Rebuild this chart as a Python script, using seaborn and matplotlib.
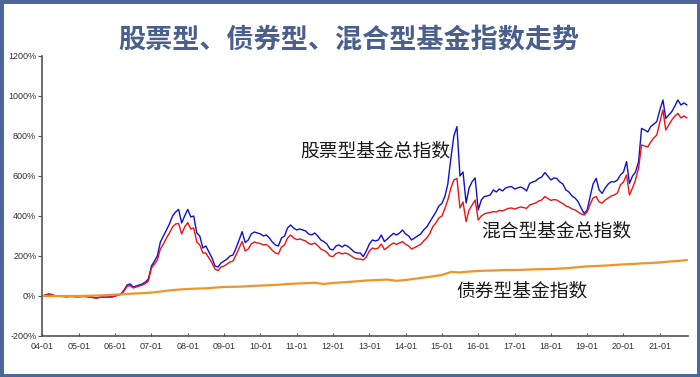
import numpy as np
import pandas as pd
import matplotlib
matplotlib.use('Agg')
import matplotlib.pyplot as plt
import matplotlib.dates as mdates
from matplotlib.patches import Rectangle
from matplotlib.ticker import FuncFormatter
import seaborn as sns

sns.set_theme(style='white')
plt.rcParams['font.family'] = ['Noto Sans CJK SC', 'DejaVu Sans']

# monthly values (%), 2004-01 .. 2021-10
stock = [
    0, 5, 10, 8, 2, 1, 0, -2, -3, -2, -2, -3,
    -3, -2, -2, -3, -5, -8, -10, -6, -5, -6, -5, -4,
    0, 5, 10, 30, 55, 60, 45, 50, 55, 60, 70, 85,
    150, 175, 200, 270, 300, 330, 360, 400, 420, 433, 365, 400,
    433, 395, 400, 315, 300, 240, 250, 220, 190, 150, 145, 165,
    175, 185, 200, 205, 240, 280, 322, 267, 280, 310, 320, 315,
    310, 300, 305, 290, 270, 255, 250, 290, 300, 340, 355, 340,
    330, 335, 330, 325, 310, 305, 315, 300, 280, 272, 260, 235,
    230, 250, 255, 245, 255, 247, 235, 220, 215, 215, 197, 225,
    260, 280, 275, 280, 305, 272, 285, 300, 313, 305, 315, 330,
    310, 300, 280, 290, 300, 310, 330, 345, 370, 395, 420, 450,
    463, 500, 560, 690, 800, 847, 600, 620, 465, 540, 572, 590,
    430, 480, 497, 500, 505, 530, 520, 535, 525, 540, 545, 547,
    535, 540, 545, 538, 525, 563, 570, 575, 588, 595, 617, 600,
    580, 590, 588, 570, 560, 530, 520, 500, 490, 472, 440, 413,
    430, 500, 560, 588, 530, 513, 540, 560, 572, 570, 580, 605,
    620, 672, 563, 600, 620, 672, 838, 830, 820, 847, 860, 872,
    930, 980, 888, 905, 922, 950, 980, 955, 965, 955,
]
mixed = [
    0, 4, 8, 6, 1, 0, -1, -3, -4, -3, -3, -4,
    -4, -3, -3, -4, -6, -9, -10, -7, -6, -7, -6, -5,
    0, 4, 8, 25, 48, 52, 40, 45, 50, 55, 62, 75,
    140, 160, 180, 235, 260, 290, 315, 345, 360, 363, 310, 345,
    367, 335, 340, 270, 255, 215, 215, 190, 165, 135, 127, 145,
    150, 160, 170, 175, 205, 240, 272, 225, 235, 260, 270, 265,
    262, 255, 258, 245, 228, 215, 210, 245, 255, 290, 305, 290,
    282, 285, 280, 275, 262, 258, 265, 252, 235, 228, 218, 200,
    197, 212, 218, 210, 215, 210, 200, 190, 185, 185, 180, 195,
    225, 240, 235, 240, 260, 232, 242, 255, 265, 258, 265, 272,
    258, 250, 235, 242, 250, 258, 275, 290, 312, 347, 365, 390,
    400, 440, 480, 540, 580, 588, 440, 470, 372, 430, 455, 480,
    380, 400, 410, 415, 418, 422, 420, 428, 425, 432, 438, 440,
    435, 440, 445, 442, 438, 455, 460, 465, 475, 480, 497, 488,
    478, 482, 480, 470, 462, 450, 445, 435, 430, 420, 410, 405,
    420, 460, 490, 497, 470, 465, 480, 490, 500, 505, 515, 555,
    570, 605, 505, 540, 580, 640, 755, 750, 745, 770, 790, 805,
    870, 930, 830, 855, 880, 900, 913, 890, 900, 890,
]
# quarterly values (%), 2004Q1 .. 2021Q4
bond = [
    0, 0, -1, 0, 0, 1, 2, 4, 7, 9, 12, 14, 17, 22, 28, 32,
    35, 37, 38, 42, 45, 46, 47, 50, 52, 54, 56, 60, 62, 64, 66, 60,
    65, 68, 71, 75, 78, 80, 82, 76, 80, 86, 92, 98, 105, 120, 118, 122,
    125, 127, 128, 130, 130, 131, 133, 134, 135, 137, 140, 144,
    148, 150, 152, 155, 158, 160, 163, 165, 168, 172, 175, 180,
]
year_ticks = pd.date_range('2004-01-01', '2021-01-01', freq='YS')

monthly = pd.DataFrame({
    'date': pd.date_range('2004-01-01', periods=len(stock), freq='MS'),
    'stock': stock,
    'mixed': mixed,
})
quarterly = pd.DataFrame({
    'date': pd.date_range('2004-01-01', periods=len(bond), freq='QS'),
    'bond': bond,
})

fig = plt.figure(figsize=(7, 3.77), dpi=100)
ax = fig.add_axes([0.0607, 0.1088, 0.9223, 0.7427])

sns.lineplot(data=monthly, x='date', y='stock', ax=ax, color='#1010d0', lw=1.0)
sns.lineplot(data=monthly, x='date', y='mixed', ax=ax, color='#ee1111', lw=1.0)
sns.lineplot(data=quarterly, x='date', y='bond', ax=ax, color='#f0942a', lw=1.6)

ax.set_xlim(pd.Timestamp('2004-01-01'), pd.Timestamp('2021-10-12'))
ax.set_ylim(-200, 1200)
ax.set_yticks(np.arange(-200, 1201, 200))
ax.yaxis.set_major_formatter(FuncFormatter(lambda v, p: '%d%%' % v))
ax.set_xticks(year_ticks)
ax.xaxis.set_major_formatter(mdates.DateFormatter('%y-%m'))
ax.set_xlabel('')
ax.set_ylabel('')

for s in ['top', 'right']:
    ax.spines[s].set_visible(False)
for s in ['left', 'bottom']:
    ax.spines[s].set_color('#555555')
    ax.spines[s].set_linewidth(1.2)

ax.tick_params(axis='y', direction='out', length=3, width=0.8, color='#555555',
               pad=1.5, left=True)
ax.tick_params(axis='x', direction='in', length=2.5, width=0.8, color='#555555',
               pad=4, bottom=True)
for lab in ax.get_xticklabels() + ax.get_yticklabels():
    lab.set_fontfamily(['Liberation Sans', 'DejaVu Sans'])
    lab.set_fontsize(6.5)
    lab.set_color('#333333')

# labels on the lines
ax.text(pd.Timestamp('2013-03-01'), 725, '股票型基金总指数', fontsize=13.5,
        color='#1a1a1a', ha='center', va='center')
ax.text(pd.Timestamp('2018-02-25'), 325, '混合型基金总指数', fontsize=13.5,
        color='#1a1a1a', ha='center', va='center')
ax.text(pd.Timestamp('2017-03-15'), 25, '债券型基金指数', fontsize=13.5,
        color='#1a1a1a', ha='center', va='center')

fig.text(0.499, 0.894, '股票型、债券型、混合型基金指数走势', fontsize=19.5,
         fontweight='bold', color='#4a5f8c', ha='center', va='center')

fig.patches.append(Rectangle((0, 0), 1, 1, transform=fig.transFigure, fill=False,
                             edgecolor='#4d6699', linewidth=5))

fig.savefig('out.png', dpi=100)
